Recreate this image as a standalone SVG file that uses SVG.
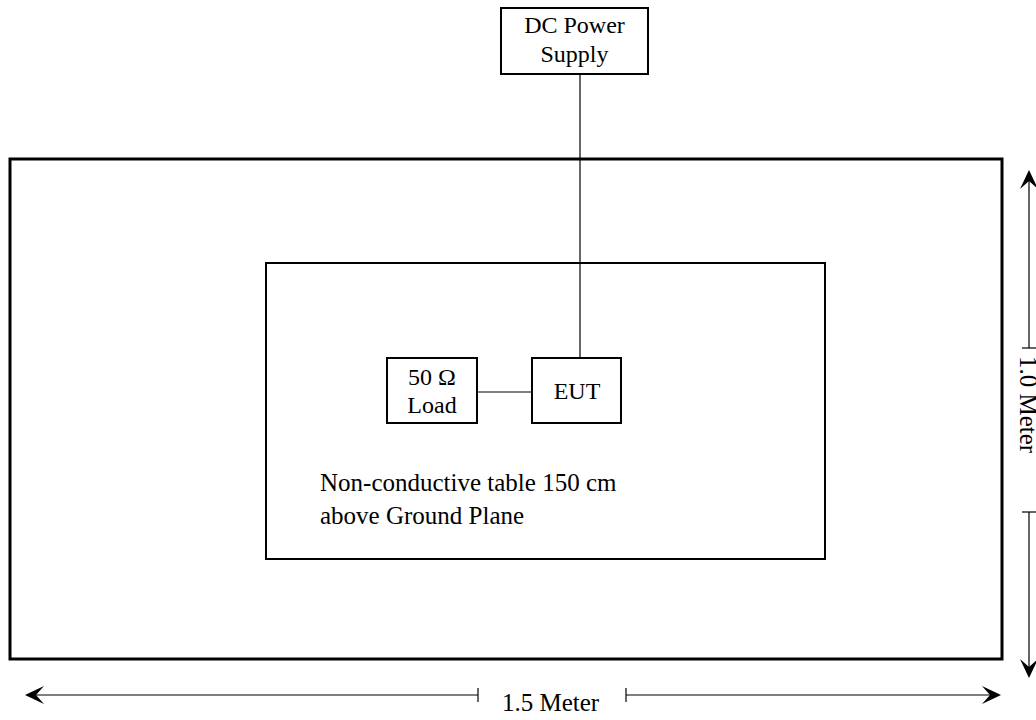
<svg xmlns="http://www.w3.org/2000/svg" width="1036" height="720" viewBox="0 0 1036 720">
<style>
.t{font-family:"Liberation Serif","Times New Roman",serif;font-size:25px;fill:#000}
.b{font-size:24px}
.box{fill:#fff;stroke:#000;stroke-width:2}
.ln{stroke:#000;stroke-width:1.2;fill:none}
.ah{fill:#000;stroke:none}
</style>
<rect width="1036" height="720" fill="#fff"/>
<g id="ground-plane"><rect x="10" y="159" width="992" height="500" fill="none" stroke="#000" stroke-width="3"/></g>
<g id="table"><rect x="266" y="263" width="559" height="296" fill="none" stroke="#000" stroke-width="2"/>
<text class="t" x="320" y="491">Non-conductive table 150 cm</text>
<text class="t" x="320" y="524">above Ground Plane</text></g>
<g id="connectors">
<line class="ln" x1="580" y1="74" x2="580" y2="358"/>
<line class="ln" x1="477" y1="392" x2="532" y2="392"/>
</g>
<g id="dc-power-supply"><rect class="box" x="501" y="8" width="147" height="66"/>
<text class="t b" x="574.500" y="33" text-anchor="middle">DC Power</text>
<text class="t b" x="574.500" y="62" text-anchor="middle">Supply</text></g>
<g id="load"><rect class="box" x="387" y="358" width="90" height="65"/>
<text class="t b" x="432" y="385" text-anchor="middle">50 Ω</text>
<text class="t b" x="432" y="413" text-anchor="middle">Load</text></g>
<g id="eut"><rect class="box" x="532" y="358" width="89" height="65"/>
<text class="t b" x="577" y="399" text-anchor="middle">EUT</text></g>
<g id="dim-width">
<line class="ln" x1="30" y1="695" x2="478" y2="695"/>
<line class="ln" x1="478" y1="688" x2="478" y2="702"/>
<line class="ln" x1="626" y1="695" x2="995" y2="695"/>
<line class="ln" x1="626" y1="688" x2="626" y2="702"/>
<path class="ah" d="M25 695 L44 686 L36 695 L44 704 Z"/>
<path class="ah" d="M1001 695 L982 686 L990 695 L982 704 Z"/>
<text class="t" x="502" y="711">1.5 Meter</text>
</g>
<g id="dim-height">
<line class="ln" x1="1029" y1="176" x2="1029" y2="348"/>
<line class="ln" x1="1022" y1="348" x2="1036" y2="348"/>
<line class="ln" x1="1029" y1="512" x2="1029" y2="672"/>
<line class="ln" x1="1022" y1="512" x2="1036" y2="512"/>
<path class="ah" d="M1029 170 L1020 189 L1029 181 L1038 189 Z"/>
<path class="ah" d="M1029 678 L1020 659 L1029 667 L1038 659 Z"/>
<text class="t" transform="translate(1020,356) rotate(90)">1.0 Meter</text>
</g>
</svg>
